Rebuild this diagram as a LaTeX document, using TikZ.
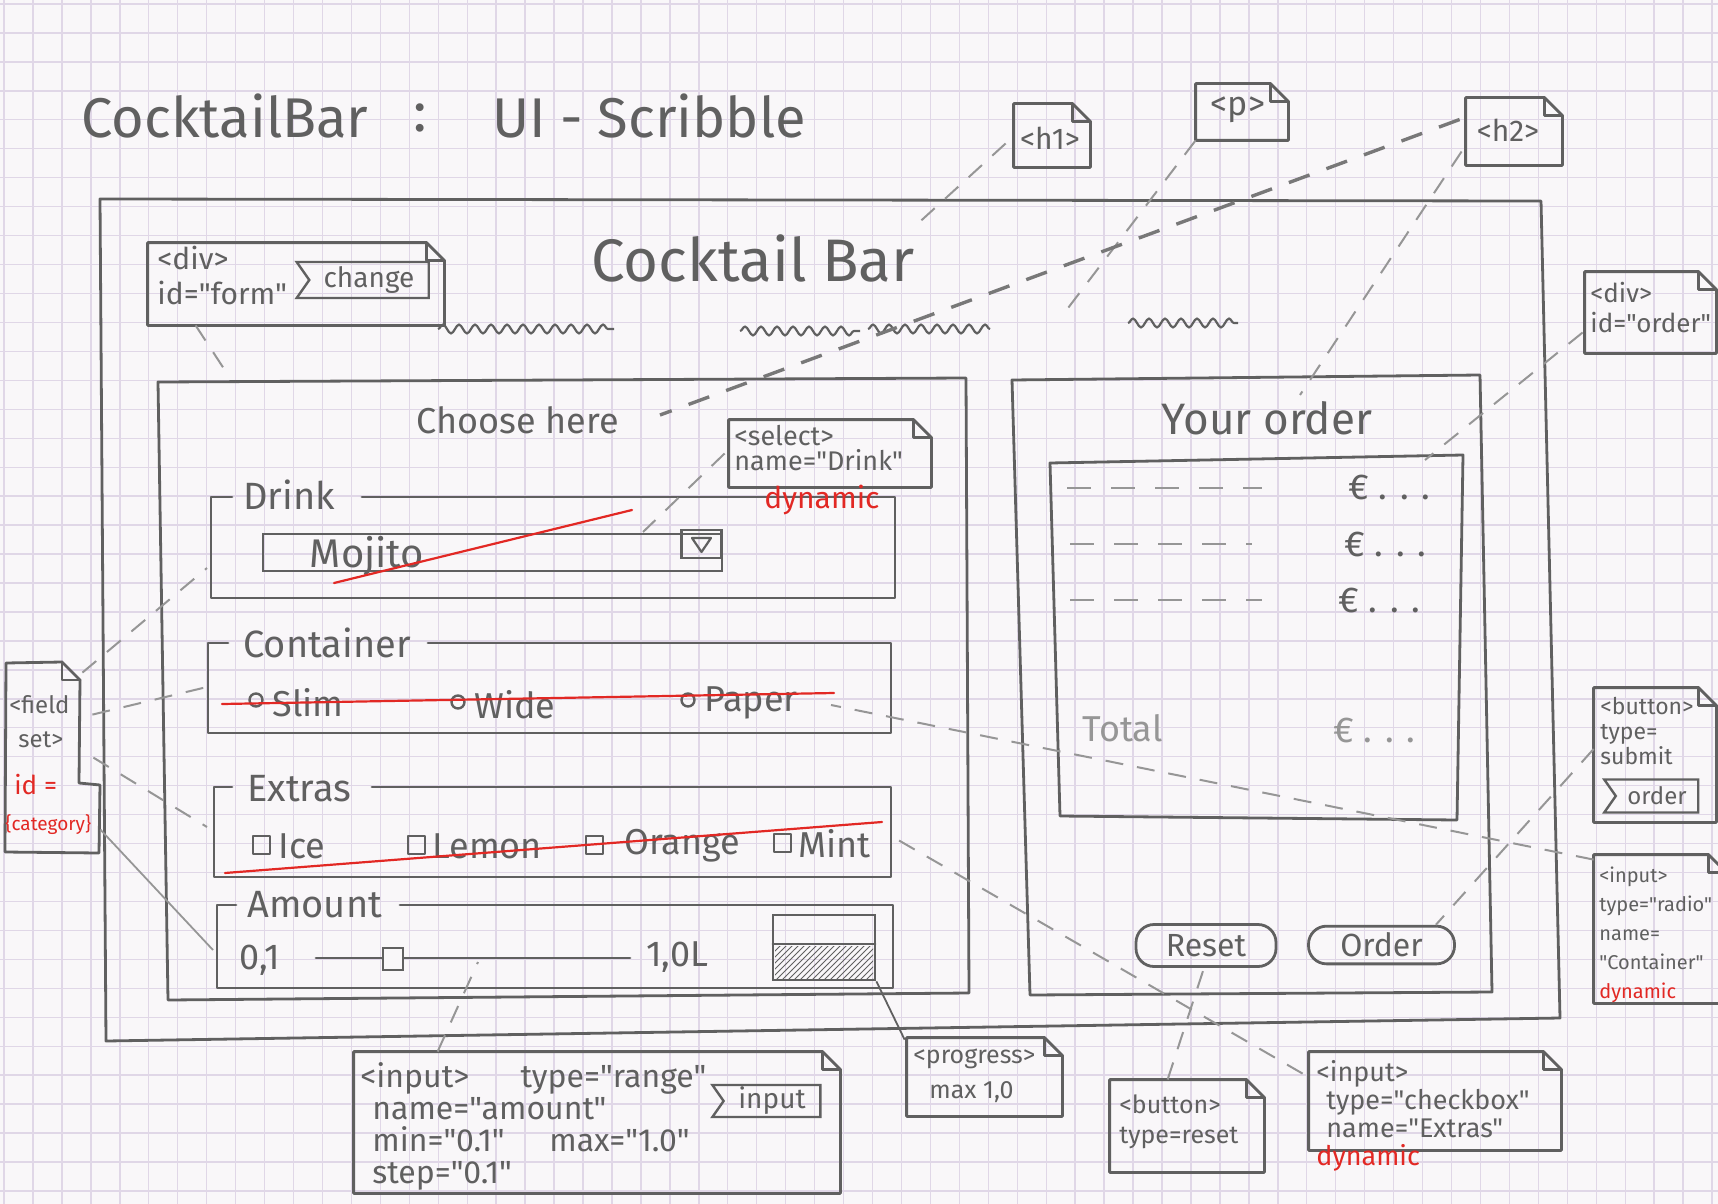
\documentclass[tikz,border=0pt]{standalone}
\usepackage{fontspec}
\setmainfont{Fira Sans}[Ligatures=TeXOff]
\usetikzlibrary{fit,shapes.symbols,patterns,decorations.pathmorphing,calc}

\definecolor{paper}{RGB}{249,247,249}
\definecolor{gridc}{RGB}{224,215,231}
\definecolor{pencil}{RGB}{96,96,96}
\definecolor{pencillight}{RGB}{150,150,150}
\definecolor{redpen}{RGB}{226,40,36}

\tikzset{
  pen/.style={draw=pencil, line width=1.4pt, line cap=round, line join=round},
  conn/.style={draw=pencillight, line width=1pt, dash pattern=on 9pt off 7pt},
  connbold/.style={draw=pencil!85, line width=1.7pt, dash pattern=on 11pt off 9pt},
  connsolid/.style={draw=pencil, line width=0.9pt},
  redline/.style={draw=redpen, line width=1.1pt, line cap=round},
  notefit/.style={inner sep=0pt, draw=none},
  hand/.style={text=pencil, inner sep=0pt},
  redhand/.style={text=redpen, inner sep=0pt},
  notetxt/.style={hand, anchor=north west, align=left},
  evt/.style={signal, signal from=west, signal to=nowhere, signal pointer angle=110,
    draw=pencil, line width=1.2pt, text=pencil, inner sep=1pt},
  btn/.style={draw=pencil, line width=1.4pt, rounded corners=9pt, text=pencil,
    font=\fontsize{16}{18}\selectfont},
  squiggle/.style={draw=pencil, line width=1.1pt, decorate,
    decoration={snake, amplitude=2.2pt, segment length=8pt}},
  rowdash/.style={draw=pencillight, line width=1.1pt, dash pattern=on 12pt off 10pt},
  legend/.style={hand, anchor=west, font=\fontsize{19}{21}\selectfont},
  item/.style={hand, anchor=west, font=\fontsize{18}{20}\selectfont},
}

% annotation note with a folded corner: name, top-left, bottom-right
\newcommand\sketchnote[3]{%
  \node[notefit, fit={(#2) (#3)}] (#1) {};
  \draw[pen] (#1.north west) -- ([xshift=-9pt]#1.north east) -- ([yshift=-9pt]#1.north east)
    -- (#1.south east) -- (#1.south west) -- cycle;
  \draw[pen] ([xshift=-9pt]#1.north east) |- ([yshift=-9pt]#1.north east);
}

\begin{document}
\begin{tikzpicture}[x=0.5pt,y=-0.5pt]
\useasboundingbox (0,0) rectangle (1718,1204);
\clip (0,0) rectangle (1718,1204);

% squared paper
\fill[paper] (0,0) rectangle (1718,1204);
\foreach \i in {0,...,59} \draw[gridc, line width=0.7pt] ({4+28.95*\i},0) -- ({4+28.95*\i},1204);
\foreach \j in {0,...,41} \draw[gridc, line width=0.7pt] (0,{4+28.95*\j}) -- (1718,{4+28.95*\j});

% page title
\node[hand, font=\fontsize{28}{30}\selectfont] (title) at (225,116) {CocktailBar};
\node[hand, font=\fontsize{28}{30}\selectfont] (colon) at (420,118) {:};
\node[hand, font=\fontsize{28}{30}\selectfont] (subtitle) at (649,116) {UI - Scribble};

% browser window
\draw[pen] (100,199) -- (1541,201) -- (1560,1018) -- (106,1041) -- cycle;
\node[hand, font=\fontsize{30}{32}\selectfont] (heading) at (753,258) {Cocktail Bar};
\draw[squiggle] (438,329) -- (614,329);
\draw[squiggle] (740,331) -- (860,331);
\draw[squiggle] (868,329) -- (990,329);
\draw[squiggle] (1128,323) -- (1238,323);

% form panel
\draw[pen] (158,382) -- (966,378) -- (969,993) -- (168,1000) -- cycle;
\node[hand, font=\fontsize{18}{20}\selectfont] (choose) at (518,420) {Choose here};

% fieldset: Drink
\node[legend] (lgdrink) at (243,495) {Drink};
\draw[pen] (232,497) -- (211,497) -- (211,598) -- (895,598) -- (895,497) -- (362,497);
\node[draw=pencil, line width=1.4pt, minimum width=229.5pt, minimum height=18.5pt, inner sep=0pt] (selbox) at (492.5,552.5) {};
\node[draw=pencil, line width=1.3pt, minimum width=20pt, minimum height=14pt, inner sep=0pt] (selarrow) at (701.5,544) {};
\draw[pen, line width=1.1pt] (692,538) -- (711,538) -- (701.5,552) -- cycle;
\node[hand, font=\fontsize{20}{22}\selectfont] (mojito) at (367,556) {Mojito};
\draw[redline] (334,583) -- (632,510);

% fieldset: Container
\node[legend] (lgcont) at (243,643) {Container};
\draw[pen] (228,643) -- (208,643) -- (208,733) -- (891,733) -- (891,643) -- (428,643);
\draw[pen, line width=1.2pt] (256,700) circle[radius=6.5];
\node[item] (slim) at (272,703) {Slim};
\draw[pen, line width=1.2pt] (458,702) circle[radius=6.5];
\node[item] (wide) at (474,705) {Wide};
\draw[pen, line width=1.2pt] (688,700) circle[radius=6.5];
\node[item] (paperopt) at (704,703) {Paper};
\draw[redline] (222,704) -- (834,693);

% fieldset: Extras
\node[legend] (lgextra) at (247,789) {Extras};
\draw[pen] (232,787) -- (214,787) -- (214,877) -- (891,877) -- (891,787) -- (372,787);
\draw[pen, line width=1.2pt] (253,836) rectangle (270,854);
\node[item] (ice) at (278,846) {Ice};
\draw[pen, line width=1.2pt] (408,836) rectangle (425,854);
\node[item] (lemon) at (432,846) {Lemon};
\draw[pen, line width=1.2pt] (586,836) rectangle (603,854);
\node[item] (orange) at (624,846) {Orange};
\draw[pen, line width=1.2pt] (774,834) rectangle (791,852);
\node[item] (mint) at (798,844) {Mint};
\draw[redline] (225,873) -- (882,822);

% fieldset: Amount
\node[legend] (lgamount) at (247,905) {Amount};
\draw[pen] (236,905) -- (217,905) -- (217,988) -- (893,988) -- (893,905) -- (400,905);
\node[item] (minval) at (239,960) {0,1};
\draw[pen] (316,958) -- (630,958);
\node[draw=pencil, fill=paper, line width=1.3pt, minimum width=10pt, minimum height=11pt, inner sep=0pt] (handle) at (393,959) {};
\node[item] (maxval) at (646,957) {1,0L};
\node[draw=pencil, line width=1.4pt, minimum width=51pt, minimum height=32.5pt, inner sep=0pt] (prog) at (824,947.5) {};
\fill[pattern=north east lines, pattern color=pencil] (775,946) rectangle (873,978);
\draw[pen] (773,944) -- (875,944);

% order panel
\draw[pen] (1012,380) -- (1480,375) -- (1492,992) -- (1030,995) -- cycle;
\node[hand, font=\fontsize{22}{24}\selectfont] (yourorder) at (1267,418) {Your order};
\draw[pen] (1050,463) -- (1463,455) -- (1457,820) -- (1060,816) -- cycle;
\draw[rowdash] (1067,488) -- (1262,488);
\node[hand, anchor=west, font=\fontsize{18}{20}\selectfont] (eur1) at (1348,487) {€ . . .};
\draw[rowdash] (1070,544) -- (1252,544);
\node[hand, anchor=west, font=\fontsize{18}{20}\selectfont] (eur2) at (1344,544) {€ . . .};
\draw[rowdash] (1070,600) -- (1262,600);
\node[hand, anchor=west, font=\fontsize{18}{20}\selectfont] (eur3) at (1338,600) {€ . . .};
\node[hand, anchor=west, text=pencillight, font=\fontsize{18}{20}\selectfont] (total) at (1082,728) {Total};
\node[hand, anchor=west, text=pencillight, font=\fontsize{18}{20}\selectfont] (eurtotal) at (1333,730) {€ . . .};
\node[btn, minimum width=70pt, minimum height=21pt] (rstbtn) at (1206,945.5) {Reset};
\node[btn, minimum width=73pt, minimum height=18.5pt] (ordbtn) at (1381.5,945) {Order};

% annotation notes
\sketchnote{divform}{148,243}{444,325}
\node[notetxt, font=\fontsize{15}{17.5}\selectfont] (divformtxt) at (157,246) {<div>\\id="form"};
\node[evt, minimum width=66pt, minimum height=18pt, font=\fontsize{14}{16}\selectfont] (chg) at (369,280) {change};

\sketchnote{h1note}{1014,104}{1090,167}
\node[hand, font=\fontsize{15}{17}\selectfont] (h1txt) at (1050,138) {<h1>};
\sketchnote{pnote}{1196,84}{1288,140}
\node[hand, font=\fontsize{17}{19}\selectfont] (ptxt) at (1238,110) {<p>};
\sketchnote{h2note}{1466,98}{1562,165}
\node[hand, font=\fontsize{15}{17}\selectfont] (h2txt) at (1508,130) {<h2>};

\sketchnote{ordnote}{1585,272}{1716,353}
\node[notetxt, font=\fontsize{13}{15}\selectfont] (ordnotetxt) at (1590,282) {<div>\\id="order"};

\sketchnote{selnote}{729,420}{931,487}
\node[notetxt, font=\fontsize{13.5}{12.5}\selectfont] (selnotetxt) at (734,425) {<select>\\name="Drink"};
\node[redhand, font=\fontsize{15}{17}\selectfont] (seldyn) at (822,500) {dynamic};

% fieldset note with its stepped outline
\node[notefit, fit={(5,662) (100,853)}] (fsnote) {};
\draw[pen] (6,663) -- (62,662) -- (80,680) -- (79,783) -- (100,785) -- (99,853) -- (5,852) -- cycle;
\draw[pen] (62,662) |- (80,680);
\node[hand, anchor=west, font=\fontsize{12}{13}\selectfont] (fs1) at (9,705) {<field};
\node[hand, anchor=west, font=\fontsize{12}{13}\selectfont] (fs2) at (18,740) {set>};
\node[redhand, anchor=west, font=\fontsize{13}{14}\selectfont] (fs3) at (14,785) {id =};
\node[redhand, anchor=west, font=\fontsize{9.5}{11}\selectfont] (fs4) at (5,825) {\{category\}};

\sketchnote{btnnote}{1594,688}{1716,822}
\node[notetxt, font=\fontsize{11.5}{12.5}\selectfont] (btnnotetxt) at (1600,697) {<button>\\type=\\submit};
\node[evt, minimum width=47pt, minimum height=16.5pt, font=\fontsize{12}{14}\selectfont] (ordevt) at (1657,796) {order};

\sketchnote{radnote}{1594,855}{1726,1003}
\node[notetxt, font=\fontsize{10}{14.5}\selectfont] (radnotetxt) at (1599,866) {<input>\\type="radio"\\name=\\"Container"\\{\color{redpen}dynamic}};

\sketchnote{rngnote}{354,1052}{840,1193}
\node[notetxt, font=\fontsize{16}{16}\selectfont] (rngnotetxt) at (360,1062) {<input>\hspace{1.6em}type="range"\\\hspace*{6pt}name="amount"\\\hspace*{6pt}min="0.1"\hspace{1.4em}max="1.0"\\\hspace*{6pt}step="0.1"};
\node[evt, minimum width=54pt, minimum height=16pt, font=\fontsize{14}{16}\selectfont] (inpevt) at (772,1101) {input};

\sketchnote{prognote}{907,1038}{1062,1116}
\node[notetxt, font=\fontsize{12.5}{17.5}\selectfont] (prognotetxt) at (913,1048) {<progress>\\\hspace*{8pt}max 1,0};

\sketchnote{rstnote}{1110,1080}{1264,1172}
\node[notetxt, font=\fontsize{12.5}{15}\selectfont] (rstnotetxt) at (1119,1094) {<button>\\type=reset};

\sketchnote{chknote}{1309,1052}{1561,1150}
\node[notetxt, font=\fontsize{13.5}{14}\selectfont] (chknotetxt) at (1316,1060) {<input>\\\hspace*{5pt}type="checkbox"\\\hspace*{5pt}name="Extras"\\{\color{redpen}dynamic}};

% connector targets on the page
\coordinate (t-form) at (230,378);
\coordinate (t-h1) at (913,228);
\coordinate (t-p) at (1065,312);
\coordinate (t-h2a) at (1300,395);
\coordinate (t-h2b) at (660,415);
\coordinate (t-order) at (1425,460);
\coordinate (t-sel) at (643,532);
\coordinate (t-drink) at (207,568);
\coordinate (t-cont) at (207,687);
\coordinate (t-extra) at (207,827);
\coordinate (t-amount) at (213,950);
\coordinate (t-rad) at (831,705);
\coordinate (t-chk) at (893,837);
\coordinate (t-slide) at (478,962);

% connectors from the notes
\draw[conn] ([xshift=24pt]divform.south west) -- (t-form);
\draw[conn] ([xshift=-4pt,yshift=-4pt]h1note.west) -- (t-h1);
\draw[conn] (pnote.south west) -- (t-p);
\draw[conn] ([xshift=-2pt,yshift=-10pt]h2note.west) -- (t-h2a);
\draw[connbold] ([xshift=-3pt,yshift=6pt]h2note.west) -- (t-h2b);
\draw[conn] ([xshift=-1pt,yshift=-10pt]ordnote.west) -- (t-order);
\draw[conn] ([xshift=-2pt]selnote.west) -- (t-sel);
\draw[conn] ([shift={(-9pt,-5.5pt)}]fsnote.north east) -- (t-drink);
\draw[conn] ([shift={(-4pt,-26.5pt)}]fsnote.north east) -- (t-cont);
\draw[conn] ([shift={(-3.5pt,-48pt)}]fsnote.north east) -- (t-extra);
\draw[connsolid, draw=pencillight] ([shift={(0pt,-84pt)}]fsnote.north east) -- (t-amount);
\draw[conn] ([yshift=3pt]btnnote.west) -- ([xshift=-10pt]ordbtn.north east);
\draw[conn] ([yshift=-2.5pt]radnote.north west) -- (t-rad);
\draw[conn] ([xshift=-3pt,yshift=-11pt]chknote.north west) -- (t-chk);
\draw[conn] ([xshift=29pt]rstnote.north west) -- ([xshift=-1pt]rstbtn.south);
\draw[connsolid] (prog.south east) -- ([xshift=-1pt,yshift=-1pt]prognote.north west);
\draw[conn] ([xshift=42pt]rngnote.north west) -- (t-slide);
\end{tikzpicture}
\end{document}
